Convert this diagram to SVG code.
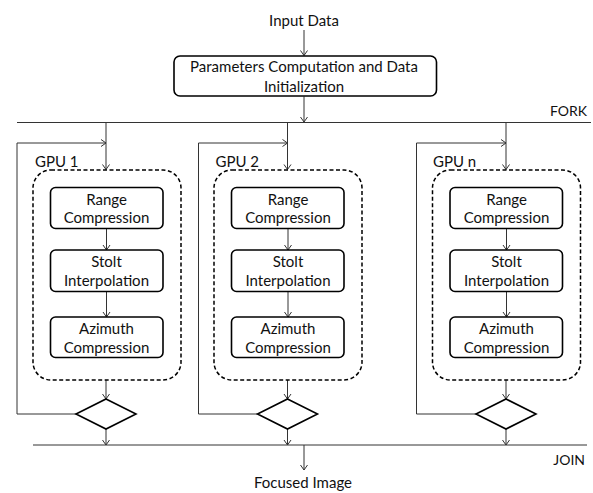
<svg xmlns="http://www.w3.org/2000/svg" width="593" height="493" viewBox="0 0 593 493">
  <defs>
    <marker id="arrow" markerUnits="userSpaceOnUse" markerWidth="10" markerHeight="10" viewBox="0 0 10 10" refX="9" refY="5" orient="auto">
      <path d="M4,1.5 L9,5 L4,8.5" fill="none" stroke="#333" stroke-width="1"/>
    </marker>
  </defs>
  <style>
    text { font-family: Lato, "Liberation Sans", sans-serif; font-size: 15px; fill: #111; }
    .c { text-anchor: middle; }
    .e { text-anchor: end; font-size: 14px; }
    .box { fill: #fff; stroke: #000; stroke-width: 1.6; }
    .gpu { fill: none; stroke: #000; stroke-width: 1.5; stroke-dasharray: 4 2.5; }
    .dec { fill: #fff; stroke: #000; stroke-width: 1.6; }
    .ln { fill: none; stroke: #333; stroke-width: 1; }
    .ar { fill: none; stroke: #333; stroke-width: 1; marker-end: url(#arrow); }
  </style>

  <!-- connectors -->
  <g id="connectors">
    <path class="ar" d="M304,30 V55.5"/>
    <path class="ar" d="M304,96.5 V122"/>
    <!-- fork and join bars -->
    <path class="ln" d="M17,122.5 H591"/>
    <path class="ln" d="M33,445 H587"/>
    <path class="ar" d="M304,445 V470"/>

    <!-- GPU 1 -->
    <path class="ar" d="M106,122.5 V169.5"/>
    <path class="ar" d="M76,414 H17 V143 H106"/>
    <path class="ar" d="M106.5,228.5 V250"/>
    <path class="ar" d="M106.5,291.5 V317"/>
    <path class="ar" d="M106,380 V399"/>
    <path class="ar" d="M106,429 V445"/>

    <!-- GPU 2 -->
    <path class="ar" d="M287.5,122.5 V169.5"/>
    <path class="ar" d="M257.5,414 H198.5 V143 H287.5"/>
    <path class="ar" d="M288,228.5 V250"/>
    <path class="ar" d="M288,291.5 V317"/>
    <path class="ar" d="M287.5,380 V399"/>
    <path class="ar" d="M287.5,429 V445"/>

    <!-- GPU n -->
    <path class="ar" d="M506,122.5 V169.5"/>
    <path class="ar" d="M476,414 H416.5 V143 H506"/>
    <path class="ar" d="M506.5,228.5 V250"/>
    <path class="ar" d="M506.5,291.5 V317"/>
    <path class="ar" d="M506,380 V399"/>
    <path class="ar" d="M506,429 V445"/>
  </g>

  <text class="c" x="304" y="26">Input Data</text>
  <text class="e" x="587" y="116">FORK</text>
  <text class="e" x="585" y="465">JOIN</text>
  <text class="c" x="303" y="488">Focused Image</text>

  <g id="init">
    <rect class="box" x="174" y="56" width="262.5" height="40" rx="6"/>
    <text class="c" x="304" y="72">Parameters Computation and Data</text>
    <text class="c" x="304" y="91.5">Initialization</text>
  </g>

  <!-- GPU 1 -->
  <g id="gpu1">
    <text x="35" y="166.5">GPU 1</text>
    <rect class="gpu" x="33" y="170" width="148" height="210" rx="18"/>
  </g>
  <g id="gpu1-range">
    <rect class="box" x="50.5" y="187.5" width="112.5" height="41" rx="5"/>
    <text class="c" x="106.5" y="205">Range</text>
    <text class="c" x="106.5" y="223">Compression</text>
  </g>
  <g id="gpu1-stolt">
    <rect class="box" x="50.5" y="250" width="112.5" height="41.5" rx="5"/>
    <text class="c" x="106.5" y="267">Stolt</text>
    <text class="c" x="106.5" y="286">Interpolation</text>
  </g>
  <g id="gpu1-azimuth">
    <rect class="box" x="50.5" y="317" width="112.5" height="40.5" rx="5"/>
    <text class="c" x="106.5" y="333.5">Azimuth</text>
    <text class="c" x="106.5" y="352.5">Compression</text>
  </g>
  <g id="gpu1-check">
    <path class="dec" d="M106,399 L136,414 L106,429 L76,414 Z"/>
  </g>

  <!-- GPU 2 -->
  <g id="gpu2">
    <text x="215.5" y="166.5">GPU 2</text>
    <rect class="gpu" x="214" y="170" width="148" height="210" rx="18"/>
  </g>
  <g id="gpu2-range">
    <rect class="box" x="231.5" y="187.5" width="112.5" height="41" rx="5"/>
    <text class="c" x="288" y="205">Range</text>
    <text class="c" x="288" y="223">Compression</text>
  </g>
  <g id="gpu2-stolt">
    <rect class="box" x="231.5" y="250" width="112.5" height="41.5" rx="5"/>
    <text class="c" x="288" y="267">Stolt</text>
    <text class="c" x="288" y="286">Interpolation</text>
  </g>
  <g id="gpu2-azimuth">
    <rect class="box" x="231.5" y="317" width="112.5" height="40.5" rx="5"/>
    <text class="c" x="288" y="333.5">Azimuth</text>
    <text class="c" x="288" y="352.5">Compression</text>
  </g>
  <g id="gpu2-check">
    <path class="dec" d="M287.5,399 L317.5,414 L287.5,429 L257.5,414 Z"/>
  </g>

  <!-- GPU n -->
  <g id="gpun">
    <text x="433" y="166.5">GPU n</text>
    <rect class="gpu" x="432.5" y="170" width="148" height="210" rx="18"/>
  </g>
  <g id="gpun-range">
    <rect class="box" x="450" y="187.5" width="112.5" height="41" rx="5"/>
    <text class="c" x="506.5" y="205">Range</text>
    <text class="c" x="506.5" y="223">Compression</text>
  </g>
  <g id="gpun-stolt">
    <rect class="box" x="450" y="250" width="112.5" height="41.5" rx="5"/>
    <text class="c" x="506.5" y="267">Stolt</text>
    <text class="c" x="506.5" y="286">Interpolation</text>
  </g>
  <g id="gpun-azimuth">
    <rect class="box" x="450" y="317" width="112.5" height="40.5" rx="5"/>
    <text class="c" x="506.5" y="333.5">Azimuth</text>
    <text class="c" x="506.5" y="352.5">Compression</text>
  </g>
  <g id="gpun-check">
    <path class="dec" d="M506,399 L536,414 L506,429 L476,414 Z"/>
  </g>
</svg>
